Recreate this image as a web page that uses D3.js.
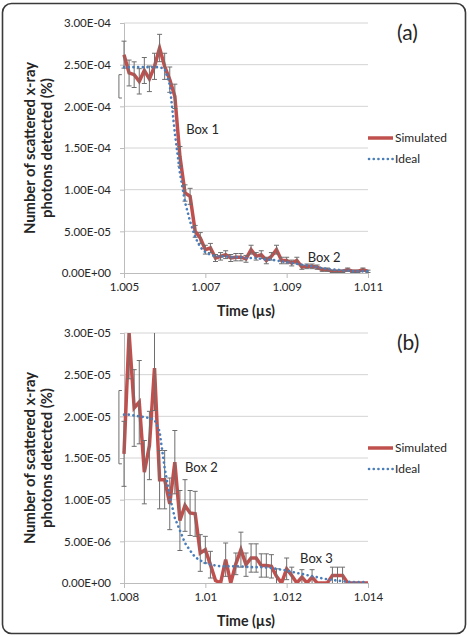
<!DOCTYPE html>
<html>
<head>
<meta charset="utf-8">
<script src="https://cdn.jsdelivr.net/npm/d3@7"></script>
<style>
	body { margin: 0; background: #fff; }
	svg text { font-family: Lato, "Open Sans", sans-serif; fill: #262626; }
</style>
</head>
<body>
<div id="root"></div>
<script>
// sampling interval of both runs (µs)
const timeStep = 0.000125;

// panel (a)
const startA = 1.005;
const simA = [2.62e-4, 2.40e-4, 2.38e-4, 2.30e-4, 2.43e-4, 2.33e-4, 2.48e-4, 2.70e-4, 2.48e-4, 2.32e-4,
	2.12e-4, 1.40e-4, 0.96e-4, 0.92e-4, 0.50e-4, 0.42e-4, 0.28e-4, 0.30e-4, 0.18e-4, 0.20e-4,
	0.22e-4, 0.18e-4, 0.19e-4, 0.19e-4, 0.17e-4, 0.28e-4, 0.20e-4, 0.22e-4, 0.15e-4, 0.20e-4,
	0.28e-4, 0.15e-4, 0.15e-4, 0.12e-4, 0.15e-4, 0.07e-4, 0.08e-4, 0.08e-4, 0.07e-4, 0.04e-4,
	0.04e-4, 0.02e-4, 0.02e-4, 0.02e-4, 0.04e-4, 0.02e-4, 0.02e-4, 0.04e-4, 0.02e-4];
const errA = [0.162e-4, 0.155e-4, 0.154e-4, 0.152e-4, 0.156e-4, 0.153e-4, 0.157e-4, 0.164e-4, 0.157e-4, 0.152e-4,
	0.146e-4, 0.118e-4, 0.098e-4, 0.096e-4, 0.071e-4, 0.065e-4, 0.053e-4, 0.055e-4, 0.042e-4, 0.045e-4,
	0.047e-4, 0.042e-4, 0.044e-4, 0.044e-4, 0.041e-4, 0.053e-4, 0.045e-4, 0.047e-4, 0.039e-4, 0.045e-4,
	0.053e-4, 0.039e-4, 0.039e-4, 0.035e-4, 0.039e-4, 0.026e-4, 0.028e-4, 0.028e-4, 0.026e-4, 0.020e-4,
	0.020e-4, 0.014e-4, 0.014e-4, 0.014e-4, 0.020e-4, 0.014e-4, 0.014e-4, 0.020e-4, 0.014e-4];
const idealA = [2.47e-4, 2.47e-4, 2.47e-4, 2.47e-4, 2.47e-4, 2.47e-4, 2.47e-4, 2.47e-4, 2.45e-4, 2.26e-4,
	1.68e-4, 1.20e-4, 0.85e-4, 0.62e-4, 0.43e-4, 0.31e-4, 0.25e-4, 0.22e-4, 0.20e-4, 0.20e-4,
	0.20e-4, 0.19e-4, 0.19e-4, 0.19e-4, 0.18e-4, 0.18e-4, 0.18e-4, 0.17e-4, 0.16e-4, 0.16e-4,
	0.15e-4, 0.14e-4, 0.13e-4, 0.12e-4, 0.11e-4, 0.10e-4, 0.09e-4, 0.08e-4, 0.07e-4, 0.06e-4,
	0.05e-4, 0.04e-4, 0.04e-4, 0.03e-4, 0.03e-4, 0.02e-4, 0.02e-4, 0.02e-4, 0.02e-4];
// sample just before the axis start (only its error bar shows)
const beforeA = { value: 2.24e-4, err: 0.14e-4 };
const xTicksA = [1.005, 1.007, 1.009, 1.011];
const xLabelsA = ["1.005", "1.007", "1.009", "1.011"];
const yTicksA = [0, 5e-5, 1e-4, 1.5e-4, 2e-4, 2.5e-4, 3e-4];
const yLabelsA = ["0.00E+00", "5.00E-05", "1.00E-04", "1.50E-04", "2.00E-04", "2.50E-04", "3.00E-04"];
const boxesA = [{ label: "Box 1", t: 1.00653, v: 1.72e-4 }, { label: "Box 2", t: 1.00952, v: 0.19e-4 }];

// panel (b)
const startB = 1.008;
const simB = [15.5e-6, 30e-6, 21e-6, 21.7e-6, 13.3e-6, 16.5e-6, 25.8e-6, 12.4e-6, 12.4e-6, 9.5e-6,
	14.5e-6, 7.5e-6, 9.3e-6, 8.4e-6, 8.3e-6, 3.6e-6, 4.0e-6, 2.2e-6, 0.3e-6, 0,
	2.8e-6, 0, 2.3e-6, 4.0e-6, 2.2e-6, 3.0e-6, 3.0e-6, 2.1e-6, 2.1e-6, 2.0e-6,
	0.8e-6, 0, 1.7e-6, 0.9e-6, 0, 0.7e-6, 0, 0.7e-6, 0, 0,
	0, 0.9e-6, 0.9e-6, 0.9e-6, 0, 0, 0, 0, 0];
const errB = [3.9e-6, 5.5e-6, 4.6e-6, 5.0e-6, 3.8e-6, 4.1e-6, 5.1e-6, 3.5e-6, 3.5e-6, 3.1e-6,
	3.8e-6, 3.6e-6, 3.1e-6, 2.7e-6, 2.7e-6, 2.2e-6, 1.6e-6, 1.6e-6, 0, 0,
	2.0e-6, 0, 1.3e-6, 2.1e-6, 1.4e-6, 1.7e-6, 1.7e-6, 1.4e-6, 1.4e-6, 1.4e-6,
	0.9e-6, 0, 1.3e-6, 1.0e-6, 0, 0.9e-6, 0, 0.9e-6, 0, 0,
	0, 1.0e-6, 1.0e-6, 1.0e-6, 0, 0, 0, 0, 0];
const idealB = [20.2e-6, 20.2e-6, 20.1e-6, 20.0e-6, 19.9e-6, 19.8e-6, 19.6e-6, 18.2e-6, 13.8e-6, 10.4e-6,
	7.8e-6, 6.3e-6, 4.8e-6, 3.9e-6, 3.1e-6, 2.7e-6, 2.4e-6, 2.2e-6, 2.1e-6, 2.0e-6,
	2.0e-6, 2.0e-6, 2.0e-6, 2.0e-6, 1.95e-6, 1.9e-6, 1.9e-6, 1.9e-6, 1.85e-6, 1.8e-6,
	1.7e-6, 1.6e-6, 1.5e-6, 1.35e-6, 1.2e-6, 1.1e-6, 0.95e-6, 0.8e-6, 0.7e-6, 0.55e-6,
	0.45e-6, 0.35e-6, 0.3e-6, 0.2e-6, 0.15e-6, 0.1e-6, 0.1e-6, 0.1e-6, 0.1e-6];
const beforeB = { value: 18.7e-6, err: 4.4e-6 };
const xTicksB = [1.008, 1.010, 1.012, 1.014];
const xLabelsB = ["1.008", "1.01", "1.012", "1.014"];
const yTicksB = [0, 5e-6, 1e-5, 1.5e-5, 2e-5, 2.5e-5, 3e-5];
const yLabelsB = ["0.00E+00", "5.00E-06", "1.00E-05", "1.50E-05", "2.00E-05", "2.50E-05", "3.00E-05"];
const boxesB = [{ label: "Box 2", t: 1.0095, v: 13.9e-6 }, { label: "Box 3", t: 1.01233, v: 3.0e-6 }];

const red = "#c0504d";
const blue = "#4a7ebb";
const barColor = "#6e6e6e";

const makeChart = () => {
	const svg = d3.select("#root")
		.append("svg")
			.attr("width", 469)
			.attr("height", 637);

	svg.append("rect")
		.attr("x", 2.5).attr("y", 3.5)
		.attr("width", 463).attr("height", 630)
		.attr("rx", 9)
		.attr("fill", "none")
		.attr("stroke", "#3a3a3a")
		.attr("stroke-width", 1.6);

	drawPanel(svg, {
		id: "a", tag: "(a)", top: 23, start: startA, end: 1.011,
		sim: simA, err: errA, ideal: idealA, before: beforeA,
		xTicks: xTicksA, xLabels: xLabelsA, yTicks: yTicksA, yLabels: yLabelsA, boxes: boxesA
	});
	drawPanel(svg, {
		id: "b", tag: "(b)", top: 333, start: startB, end: 1.014,
		sim: simB, err: errB, ideal: idealB, before: beforeB,
		xTicks: xTicksB, xLabels: xLabelsB, yTicks: yTicksB, yLabels: yLabelsB, boxes: boxesB
	});
};

const drawPanel = (svg, p) => {
	const left = 124, right = 368, height = 250;
	const bottom = p.top + height;
	const yMax = p.yTicks[p.yTicks.length - 1];

	const x = d3.scaleLinear().domain([p.start, p.end]).range([left, right]);
	const y = d3.scaleLinear().domain([0, yMax]).range([bottom, p.top]);

	const rows = p.sim.map((v, i) => ({
		t: p.start + i * timeStep, v: v, e: p.err[i], ideal: p.ideal[i]
	}));

	const g = svg.append("g");

	// clip areas
	const defs = g.append("defs");
	defs.append("clipPath").attr("id", "clip-" + p.id)
		.append("rect").attr("x", left - 4).attr("y", p.top - 4)
		.attr("width", right - left + 8).attr("height", height + 4);
	defs.append("clipPath").attr("id", "clipbar-" + p.id)
		.append("rect").attr("x", left - 4).attr("y", p.top)
		.attr("width", right - left + 8).attr("height", height);

	// gridlines
	g.append("g")
		.selectAll("line")
		.data(p.yTicks.slice(1))
			.enter()
		.append("line")
			.attr("x1", left).attr("x2", right)
			.attr("y1", d => y(d)).attr("y2", d => y(d))
			.attr("stroke", "#d4d4d4")
			.attr("stroke-width", 1);

	// axes
	const yAxis = g.append("g")
		.attr("transform", `translate(${left},0)`)
		.call(d3.axisLeft(y).tickValues(p.yTicks).tickFormat((d, i) => p.yLabels[i]).tickSize(4).tickPadding(9));
	const xAxis = g.append("g")
		.attr("transform", `translate(0,${bottom})`)
		.call(d3.axisBottom(x).tickValues(p.xTicks).tickFormat((d, i) => p.xLabels[i]).tickSize(5).tickPadding(5));

	[yAxis, xAxis].forEach(ax => {
		ax.select(".domain").attr("stroke", "#bcbcbc");
		ax.selectAll(".tick line").attr("stroke", "#bcbcbc");
		ax.selectAll("text")
			.attr("font-size", 11.5)
			.attr("font-family", "Lato, 'Open Sans', sans-serif")
			.attr("fill", "#262626");
	});

	// error bar of the sample sitting just left of the axis
	const bx = x(p.start - timeStep);
	const bTop = y(p.before.value + p.before.err), bBot = y(p.before.value - p.before.err);
	g.append("path")
		.attr("d", `M${bx + 3},${bTop}H${bx}V${bBot}H${bx + 3}`)
		.attr("fill", "none")
		.attr("stroke", barColor)
		.attr("stroke-width", 1);

	// simulated line
	const line = d3.line().x(d => x(d.t));
	g.append("path")
		.datum(rows)
		.attr("clip-path", `url(#clip-${p.id})`)
		.attr("d", line.y(d => y(d.v)))
		.attr("fill", "none")
		.attr("stroke", red)
		.attr("stroke-width", 3.5)
		.attr("stroke-linejoin", "miter");

	// error bars
	const bars = g.append("g")
		.attr("clip-path", `url(#clipbar-${p.id})`)
		.selectAll("g")
		.data(rows.filter(d => d.e > 0))
			.enter()
		.append("g")
			.attr("stroke", barColor)
			.attr("stroke-width", 1);
	bars.append("line")
		.attr("x1", d => x(d.t)).attr("x2", d => x(d.t))
		.attr("y1", d => y(d.v - d.e)).attr("y2", d => y(d.v + d.e));
	bars.append("line")
		.attr("x1", d => x(d.t) - 2.5).attr("x2", d => x(d.t) + 2.5)
		.attr("y1", d => y(d.v + d.e)).attr("y2", d => y(d.v + d.e));
	bars.append("line")
		.attr("x1", d => x(d.t) - 2.5).attr("x2", d => x(d.t) + 2.5)
		.attr("y1", d => y(d.v - d.e)).attr("y2", d => y(d.v - d.e));

	// ideal line
	g.append("path")
		.datum(rows)
		.attr("clip-path", `url(#clip-${p.id})`)
		.attr("d", d3.line().x(d => x(d.t)).y(d => y(d.ideal)))
		.attr("fill", "none")
		.attr("stroke", blue)
		.attr("stroke-width", 2.6)
		.attr("stroke-linecap", "round")
		.attr("stroke-dasharray", "0.1 4.6");

	// box labels
	g.selectAll(".box")
		.data(p.boxes)
			.enter()
		.append("text")
			.attr("x", d => x(d.t))
			.attr("y", d => y(d.v))
			.attr("dy", "0.35em")
			.attr("font-size", 13)
			.text(d => d.label);

	// legend
	const lg = g.append("g").attr("transform", `translate(368,${p.top + 115})`);
	lg.append("line").attr("x1", 0).attr("x2", 25).attr("y1", 0).attr("y2", 0)
		.attr("stroke", red).attr("stroke-width", 3.5);
	lg.append("text").attr("x", 27).attr("y", 0).attr("dy", "0.35em")
		.attr("font-size", 12).text("Simulated");
	lg.append("line").attr("x1", 1).attr("x2", 25).attr("y1", 21).attr("y2", 21)
		.attr("stroke", blue).attr("stroke-width", 2.6)
		.attr("stroke-linecap", "round").attr("stroke-dasharray", "0.1 4.6");
	lg.append("text").attr("x", 27).attr("y", 21).attr("dy", "0.35em")
		.attr("font-size", 12).text("Ideal");

	// panel tag
	g.append("text")
		.attr("x", 397).attr("y", p.top + 10)
		.attr("dy", "0.35em")
		.attr("font-size", 21)
		.text(p.tag);

	// axis titles
	const midY = p.top + height / 2;
	[["Number of scattered x-ray", 30], ["photons detected (%)", 47]].forEach(([txt, tx]) => {
		g.append("text")
			.attr("transform", `translate(${tx},${midY}) rotate(-90)`)
			.attr("text-anchor", "middle")
			.attr("dy", "0.35em")
			.attr("font-size", 14.8)
			.attr("font-weight", "bold")
			.text(txt);
	});
	g.append("text")
		.attr("x", 246).attr("y", bottom + 38)
		.attr("text-anchor", "middle")
		.attr("dy", "0.35em")
		.attr("font-size", 14.2)
		.attr("font-weight", "bold")
		.text("Time (µs)");
};

makeChart();
</script>
</body>
</html>
